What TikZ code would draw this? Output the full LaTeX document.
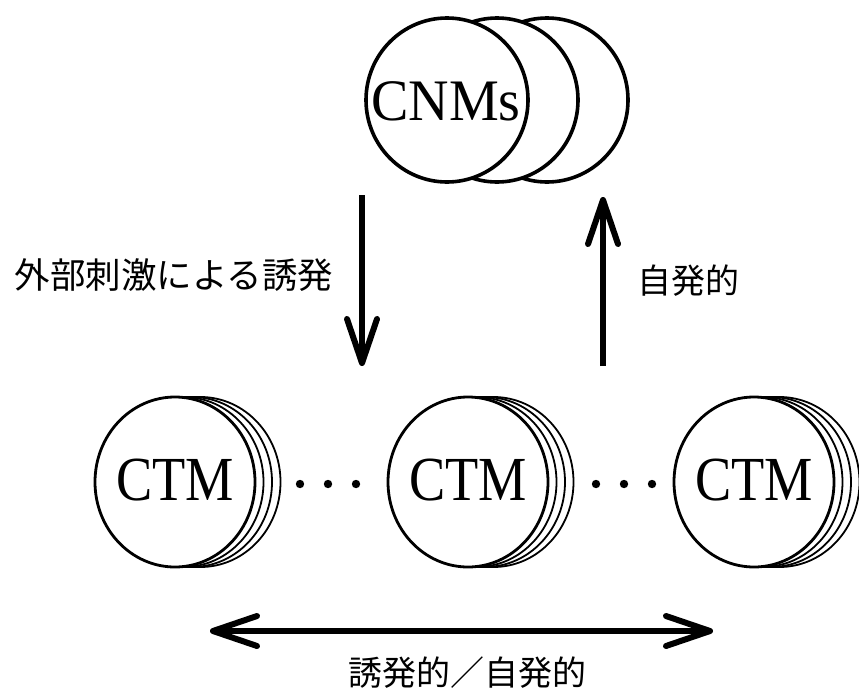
\documentclass[tikz,border=0pt]{standalone}
\usepackage{fontspec}
\setmainfont{Liberation Serif}
\newfontfamily\jpfont{Noto Sans CJK JP}
\usetikzlibrary{arrows.meta}

\begin{document}
\begin{tikzpicture}[
            x=1pt, y=-1pt, % pixel-like units, y pointing down
            coinfront/.style={draw, line width=2.8pt, fill=white},
            coinback/.style={draw, line width=1.8pt, fill=white},
            cnmcoin/.style={draw, line width=3.6pt, fill=white},
            modeltext/.style={font=\fontsize{56}{60}\selectfont, inner sep=0pt},
            jplabel/.style={font=\jpfont\fontsize{34}{38}\selectfont, inner sep=0pt},
            bigarrow/.style={line width=6pt, -{Straight Barb[length=44pt,width=30pt,round]}},
            bothwayarrow/.style={line width=6pt, {Straight Barb[length=44pt,width=30pt,round]}-{Straight Barb[length=44pt,width=30pt,round]}}
        ]

            \useasboundingbox (0,0) rectangle (859,696);

            % 1. CNMs stack (back circles first)
            \foreach \cx in {547, 497}
                \draw[cnmcoin] (\cx,100) ellipse [x radius=81, y radius=82];
            \draw[cnmcoin] (447,100) ellipse [x radius=81, y radius=82];
            \node[modeltext] (cnms) at (446,101) {\scalebox{1}[1.05]{CNMs}};

            % 2. CTM stacks, each with three coins behind
            \foreach \cx/\nm in {175/ctmA, 468/ctmB, 754/ctmC} {
                \foreach \k in {3,2,1}
                    \draw[coinback] (\cx+8.5*\k,482) ellipse [x radius=80, y radius=85];
                \draw[coinfront] (\cx,482) ellipse [x radius=80, y radius=85];
                \node[modeltext] (\nm) at (\cx,480) {\scalebox{0.97}[1.12]{CTM}};
            }

            % 3. Dots between the stacks
            \foreach \dx in {300, 328, 356, 596, 624, 652}
                \fill (\dx,484) circle (4.2);

            % 4. Vertical arrows
            \coordinate (downTop) at (362,195);
            \coordinate (downEnd) at (362,366);
            \coordinate (upBottom) at (603,366);
            \coordinate (upEnd) at (603,197);
            \draw[bigarrow] (downTop) -- (downEnd);
            \draw[bigarrow] (upBottom) -- (upEnd);

            % 5. Horizontal arrow at the bottom
            \coordinate (leftEnd) at (210,631);
            \coordinate (rightEnd) at (713,631);
            \draw[bothwayarrow] (leftEnd) -- (rightEnd);

            % 6. Labels
            \node[jplabel, font=\jpfont\fontsize{35.5}{38}\selectfont] (evoked) at (174,275) {外部刺激による誘発};
            \node[jplabel] (spont) at (688,281) {自発的};
            \node[jplabel] (both) at (467,673) {誘発的／自発的};

        \end{tikzpicture}
\end{document}
